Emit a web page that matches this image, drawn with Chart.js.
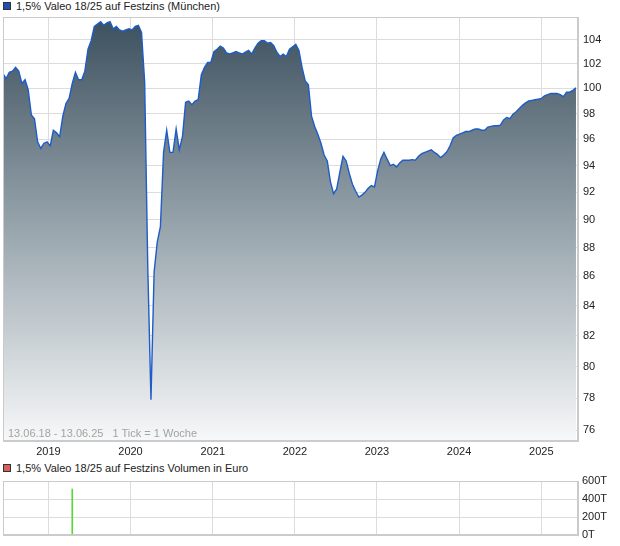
<!DOCTYPE html>
<html>
<head>
<meta charset="utf-8">
<script src="https://cdn.jsdelivr.net/npm/chart.js@4.4.1/dist/chart.umd.min.js"></script>
<style>
  body { margin: 0; width: 620px; height: 546px; position: relative; background: #fff;
         font-family: 'Liberation Sans', Arial, sans-serif; overflow: hidden; }
  .legend { position: absolute; left: 3px; font-size: 11px; color: #222; white-space: nowrap; }
  .legend .box { display: inline-block; width: 6px; height: 6px; margin-right: 5px;
                 border: 1px solid #333; vertical-align: 0px; }
  .range { position: absolute; left: 8px; top: 427px; font-size: 11px; color: #a3a3a3; white-space: pre; }
  canvas { position: absolute; left: 0; }
</style>
</head>
<body>
<div class="legend" style="top:0px"><span class="box" style="background:#1f4fb5"></span>1,5% Valeo 18/25 auf Festzins (München)</div>
<canvas id="priceChart" width="620" height="460" style="top:0"></canvas>
<div class="range">13.06.18 - 13.06.25   1 Tick = 1 Woche</div>
<div class="legend" style="top:462px"><span class="box" style="background:#d9605a"></span>1,5% Valeo 18/25 auf Festzins Volumen in Euro</div>
<canvas id="volumeChart" width="620" height="86" style="top:460px"></canvas>
<script>
// period shown: 13.06.18 - 13.06.25, one price every 2 weeks
const startDate = Date.UTC(2018, 5, 13);
const endDate = Date.UTC(2025, 5, 13);
const stepWeeks = 2;

const prices = [
  101.2, 100.8, 101.3, 101.4, 101.7, 101.4, 100.4, 100.7, 99.9, 97.9,
  97.6, 95.8, 95.3, 95.7, 95.8, 95.5, 96.7, 96.5, 96.2, 97.8,
  98.8, 99.2, 100.4, 101.3, 100.7, 100.7, 101.4, 103.2, 103.9, 105.1,
  105.3, 105.5, 105.2, 105.4, 105.5, 104.9, 105.1, 104.8, 104.7, 104.8,
  104.9, 104.8, 105.1, 105.2, 104.6, 100.5, 86.5, 77.9, 86.3, 88.4,
  89.5, 95.0, 96.7, 95.0, 95.0, 96.8, 95.2, 96.2, 98.9, 99.0,
  98.7, 99.0, 99.1, 101.1, 101.7, 102.1, 102.1, 103.0, 103.2, 103.45,
  103.3, 102.9, 102.8, 102.9, 103.0, 102.9, 102.8, 102.95, 103.1, 102.8,
  103.3, 103.7, 103.9, 103.9, 103.7, 103.75, 103.5, 102.95, 102.6, 102.8,
  102.6, 103.2, 103.4, 103.6, 103.1, 101.7, 100.6, 100.3, 97.8, 97.0,
  96.4, 95.7, 94.8, 94.35, 92.8, 91.9, 92.25, 93.5, 94.7, 94.35,
  93.4, 92.6, 92.1, 91.65, 91.8, 92.0, 92.3, 92.5, 92.4, 93.6,
  94.5, 95.0, 94.5, 94.0, 94.1, 93.9, 94.2, 94.4, 94.4, 94.4,
  94.45, 94.4, 94.7, 94.9, 95.0, 95.1, 95.2, 95.0, 94.85, 94.6,
  94.8, 95.05, 95.5, 96.1, 96.3, 96.4, 96.5, 96.6, 96.6, 96.7,
  96.8, 96.8, 96.7, 96.7, 96.95, 97.0, 97.05, 97.05, 97.1, 97.5,
  97.7, 97.6, 97.95, 98.15, 98.4, 98.65, 98.85, 99.0, 99.05, 99.1,
  99.15, 99.2, 99.4, 99.5, 99.6, 99.6, 99.6, 99.5, 99.35, 99.7,
  99.7, 99.85, 100.05
];

const priceTicks = [76, 78, 80, 82, 84, 86, 88, 90, 92, 94, 96, 98, 100, 102, 104];
const yearLabels = ['2019', '2020', '2021', '2022', '2023', '2024', '2025'];

// volume (Euro): only one trade in the period
const volumeWeeks = [44];
const volumeValues = [510000];
const volumeTicks = [0, 200000, 400000, 600000];

const WEEK = 7 * 864e5;
const totalWeeks = (endDate - startDate) / WEEK;
const yearPos = yearLabels.map(y => (Date.UTC(+y, 0, 1) - startDate) / WEEK);

function yearTicks(scale) {
  scale.ticks = yearPos.map(v => ({ value: v }));
}
function yearLabel(value) {
  const i = yearPos.findIndex(p => Math.abs(p - value) < 1e-6);
  return i >= 0 ? yearLabels[i] : '';
}

const frame = {
  id: 'frame',
  afterDatasetsDraw(chart) {
    const a = chart.chartArea, c = chart.ctx;
    c.save();
    c.strokeStyle = '#cbcbcb';
    c.lineWidth = 1;
    c.strokeRect(Math.round(a.left) + 0.5, Math.round(a.top) + 0.5,
                 Math.round(a.right - a.left) - 1, Math.round(a.bottom - a.top) - 1);
    c.restore();
  }
};

const tickFont = { family: "'Liberation Sans', Arial, sans-serif", size: 11 };

new Chart(document.getElementById('priceChart'), {
  type: 'line',
  data: {
    datasets: [{
      data: prices.map((v, i) => ({ x: i * stepWeeks, y: v })),
      borderColor: '#1e5cc8',
      borderWidth: 1.4,
      pointRadius: 0,
      tension: 0,
      fill: 'start',
      backgroundColor(ctx) {
        const a = ctx.chart.chartArea;
        if (!a) return 'rgba(0,0,0,0)';
        const g = ctx.chart.ctx.createLinearGradient(0, a.top, 0, a.bottom);
        g.addColorStop(0, '#3b4f5d');
        g.addColorStop(0.5, '#98a5ad');
        g.addColorStop(1, '#f7f8f9');
        return g;
      }
    }]
  },
  options: {
    responsive: false,
    animation: false,
    layout: { padding: { left: 3, top: 17, right: 0, bottom: 0 } },
    plugins: { legend: { display: false }, tooltip: { enabled: false } },
    scales: {
      x: {
        type: 'linear',
        min: 0,
        max: totalWeeks,
        afterBuildTicks: yearTicks,
        afterFit(s) { s.height = 19; },
        grid: { color: '#dcdcdc', drawTicks: false },
        border: { color: '#cbcbcb' },
        ticks: { callback: yearLabel, color: '#222', font: tickFont, padding: 4, maxRotation: 0, autoSkip: false }
      },
      y: {
        type: 'logarithmic',
        position: 'right',
        min: 75.36,
        max: 105.9,
        afterBuildTicks(s) { s.ticks = priceTicks.map(v => ({ value: v })); },
        afterFit(s) { s.width = 42; },
        grid: { color: '#dcdcdc', drawTicks: false },
        border: { color: '#cbcbcb' },
        ticks: { callback: v => String(v), color: '#222', font: tickFont, padding: 5, autoSkip: false }
      }
    }
  },
  plugins: [frame]
});

new Chart(document.getElementById('volumeChart'), {
  type: 'bar',
  data: {
    datasets: [{
      data: volumeWeeks.map((w, i) => ({ x: w, y: volumeValues[i] })),
      backgroundColor: '#55d83c',
      barThickness: 1
    }]
  },
  options: {
    responsive: false,
    animation: false,
    layout: { padding: { left: 3, top: 21, right: 0, bottom: 6 } },
    plugins: { legend: { display: false }, tooltip: { enabled: false } },
    scales: {
      x: {
        type: 'linear',
        offset: false,
        min: 0,
        max: totalWeeks,
        afterBuildTicks: yearTicks,
        afterFit(s) { s.height = 0; },
        grid: { color: '#dcdcdc', drawTicks: false, offset: false },
        border: { color: '#cbcbcb' },
        ticks: { display: false }
      },
      y: {
        position: 'right',
        min: 0,
        max: 600000,
        afterBuildTicks(s) { s.ticks = volumeTicks.map(v => ({ value: v })); },
        afterFit(s) { s.width = 42; },
        grid: { color: '#dcdcdc', drawTicks: false },
        border: { color: '#cbcbcb' },
        ticks: { callback: v => (v / 1000) + 'T', color: '#222', font: tickFont, padding: 4 }
      }
    }
  },
  plugins: [frame]
});
</script>
</body>
</html>
